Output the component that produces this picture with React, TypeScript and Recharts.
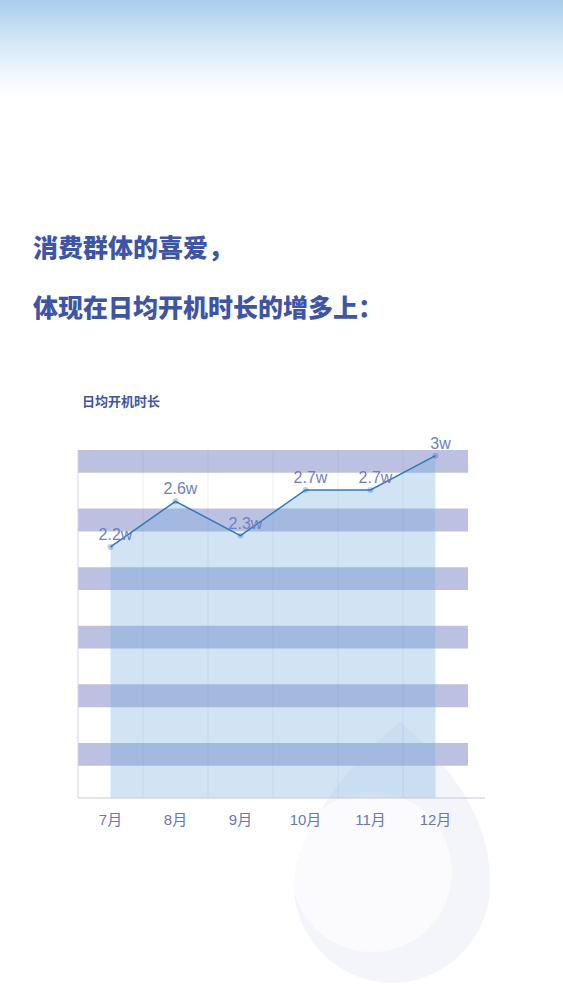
import {
  ComposedChart,
  Area,
  XAxis,
  YAxis,
  ReferenceArea,
  ReferenceLine,
  LabelList,
} from 'recharts';

const months = ['7月', '8月', '9月', '10月', '11月', '12月'];
const monthTicks = [0, 1, 2, 3, 4, 5];
// 日均开机时长 (万)
const hours = [2.2, 2.6, 2.3, 2.7, 2.7, 3];
const hourLabels = ['2.2w', '2.6w', '2.3w', '2.7w', '2.7w', '3w'];
// decorative stripes, one per band unit
const stripes = [0, 1, 2, 3, 4, 5];
const dividers = [0.5, 1.5, 2.5, 3.5, 4.5];

const data = months.map((m, i) => ({ idx: i, month: m, value: hours[i], label: hourLabels[i] }));

const HEAD = '#3e55a6';
const FONT = '"Liberation Sans", "Noto Sans CJK SC", sans-serif';
const CJK = '"Noto Sans CJK SC", sans-serif';

export default function App() {
  return (
    <div
      style={{
        position: 'absolute',
        left: 0,
        top: 0,
        width: 563,
        height: 1000,
        overflow: 'hidden',
        background: 'linear-gradient(to bottom, #a9cdec 0px, #d3e6f6 40px, #f2f8fd 75px, #ffffff 100px)',
        fontFamily: FONT,
      }}
    >
      {/* faint drop decoration */}
      <svg width={563} height={1000} style={{ position: 'absolute', left: 0, top: 0 }}>
        <path
          d="M 400 722 Q 492 800 490 885 A 98 98 0 1 1 296 865 Q 318 790 400 722 Z"
          fill="#e9ecf7"
          opacity={0.5}
        />
        <circle cx={372} cy={872} r={80} fill="#ffffff" opacity={0.6} />
      </svg>

      <div
        style={{
          position: 'absolute',
          left: 33,
          top: 231,
          fontSize: 25,
          lineHeight: '30px',
          fontWeight: 900,
          color: HEAD,
          fontFamily: CJK,
        }}
      >
        消费群体的喜爱，
      </div>
      <div
        style={{
          position: 'absolute',
          left: 33,
          top: 291,
          fontSize: 25,
          lineHeight: '30px',
          fontWeight: 900,
          color: HEAD,
          fontFamily: CJK,
        }}
      >
        体现在日均开机时长的增多上：
      </div>
      <div
        style={{
          position: 'absolute',
          left: 82,
          top: 393,
          fontSize: 13,
          lineHeight: '16px',
          fontWeight: 700,
          color: HEAD,
          fontFamily: CJK,
        }}
      >
        日均开机时长
      </div>

      <div style={{ position: 'absolute', left: 0, top: 400 }}>
        <ComposedChart width={563} height={460} data={data} margin={{ top: 50, right: 95, bottom: 32, left: 78 }}>
          <XAxis
            dataKey="idx"
            type="number"
            domain={[-0.5, 5.5]}
            ticks={monthTicks}
            tickFormatter={(i: number) => months[i]}
            axisLine={false}
            tickLine={false}
            tickMargin={10}
            height={30}
            tick={{ fontSize: 15, fill: '#6877b3', fontFamily: FONT }}
          />
          <YAxis yAxisId="v" domain={[0, 3.05]} hide allowDataOverflow />
          <YAxis yAxisId="band" domain={[0, 5.94]} hide allowDataOverflow />
          {stripes.map((k) => (
            <ReferenceArea
              key={k}
              yAxisId="band"
              x1={-0.5}
              x2={5.5}
              y1={k + 0.55}
              y2={k + 0.94}
              fill="#bcc1e1"
              fillOpacity={1}
              stroke="none"
              ifOverflow="hidden"
            />
          ))}
          {dividers.map((d) => (
            <ReferenceLine key={d} yAxisId="v" x={d} stroke="#7d8fb8" strokeOpacity={0.15} strokeWidth={1} />
          ))}
          <ReferenceLine yAxisId="v" x={-0.5} stroke="#d3d6de" strokeWidth={1} />
          <ReferenceLine
            yAxisId="v"
            segment={[
              { x: -0.5, y: 0 },
              { x: 5.76, y: 0 },
            ]}
            stroke="#c5cad6"
            strokeWidth={1}
            ifOverflow="visible"
          />
          <Area
            yAxisId="v"
            dataKey="value"
            type="linear"
            stroke="#2f79bb"
            strokeWidth={1.5}
            fill="#6ea8db"
            fillOpacity={0.31}
            dot={{ r: 3, fill: '#2a68a6', stroke: '#2a68a6', strokeWidth: 0 }}
            activeDot={false}
            isAnimationActive={false}
          >
            <LabelList
              dataKey="label"
              position="top"
              offset={7}
              dx={5}
              fontSize={16}
              fill="#6e80c4"
              fontFamily={FONT}
            />
          </Area>
        </ComposedChart>
      </div>
    </div>
  );
}
